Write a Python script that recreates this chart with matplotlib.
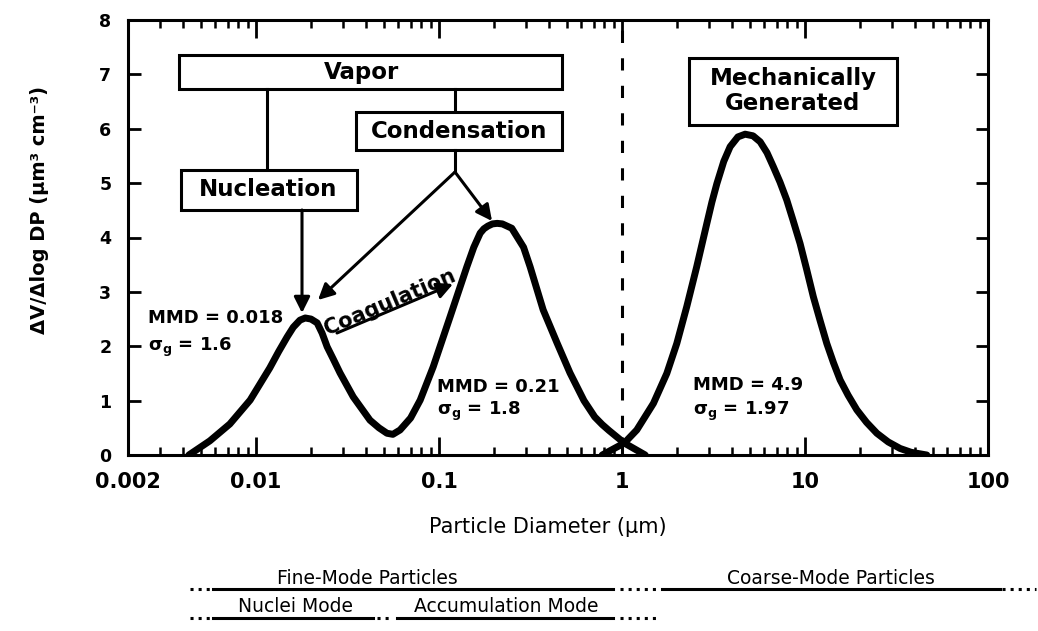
import matplotlib
matplotlib.use("Agg")
import matplotlib.pyplot as plt
from matplotlib.ticker import FixedLocator, LogLocator, NullFormatter
from matplotlib.patches import Rectangle
from matplotlib.lines import Line2D

plt.rcParams['font.family'] = ['DejaVu Sans']
plt.rcParams['mathtext.fontset'] = 'dejavusans'
plt.rcParams['mathtext.default'] = 'bf'

# ---------------- data ----------------
fine_d = [0.0043, 0.0056, 0.0072, 0.0093, 0.0119, 0.0133, 0.0148, 0.0160, 0.0174,
          0.0186, 0.0200, 0.0216, 0.0230, 0.0245, 0.0265, 0.0288, 0.0340, 0.0420,
          0.0470, 0.0520, 0.0560, 0.0613, 0.0700, 0.0790, 0.0930, 0.1150, 0.1420,
          0.1550, 0.1680, 0.1760, 0.1850, 0.1960, 0.2080, 0.2220, 0.2500, 0.2900,
          0.3150, 0.3710, 0.4420, 0.5200, 0.6200, 0.7100, 0.7800, 0.8500, 1.0300,
          1.3400]
fine_v = [0.00, 0.26, 0.57, 1.01, 1.60, 1.90, 2.17, 2.35, 2.48,
          2.52, 2.50, 2.43, 2.24, 1.99, 1.76, 1.51, 1.07, 0.64,
          0.50, 0.40, 0.38, 0.46, 0.68, 1.01, 1.62, 2.54, 3.46,
          3.82, 4.08, 4.16, 4.21, 4.25, 4.26, 4.25, 4.17, 3.82,
          3.46, 2.67, 2.06, 1.51, 1.00, 0.70, 0.56, 0.45, 0.22,
          0.00]

coarse_d = [0.78, 1.03, 1.205, 1.486, 1.758, 1.993, 2.26, 2.56, 2.91, 3.10, 3.30,
            3.60, 3.90, 4.30, 4.71, 5.20, 5.69, 6.20, 6.72, 7.30, 7.95, 8.60, 9.40,
            10.2, 11.11, 12.1, 13.16, 14.3, 15.56, 17.2, 19.2, 21.7, 24.7, 28.5,
            33.1, 38.0, 46.3]
coarse_v = [0.00, 0.22, 0.46, 0.95, 1.50, 2.05, 2.73, 3.46, 4.26, 4.65, 4.99,
            5.40, 5.67, 5.85, 5.90, 5.87, 5.76, 5.56, 5.30, 5.02, 4.69, 4.32, 3.89,
            3.42, 2.91, 2.47, 2.05, 1.70, 1.38, 1.10, 0.83, 0.60, 0.40, 0.24,
            0.12, 0.05, 0.00]

xtick_vals = [0.002, 0.01, 0.1, 1, 10, 100]
xtick_labels = ["0.002", "0.01", "0.1", "1", "10", "100"]
ytick_vals = [0, 1, 2, 3, 4, 5, 6, 7, 8]
ytick_labels = ["0", "1", "2", "3", "4", "5", "6", "7", "8"]
fine_coarse_cut = 1.0

mode_labels = [("MMD = 0.018", r"$σ_g$ = 1.6"),
               ("MMD = 0.21", r"$σ_g$ = 1.8"),
               ("MMD = 4.9", r"$σ_g$ = 1.97")]

# ---------------- figure ----------------
W, H = 1038, 631
fig = plt.figure(figsize=(W / 100, H / 100), dpi=100)
ax = fig.add_axes([128 / W, (H - 455) / H, 860 / W, 435 / H])
ax.set_xscale('log')
ax.set_xlim(0.002, 100)
ax.set_ylim(0, 8)

ax.plot(fine_d, fine_v, color='black', lw=5, solid_joinstyle='round',
        solid_capstyle='round', zorder=3)
ax.plot(coarse_d, coarse_v, color='black', lw=5, solid_joinstyle='round',
        solid_capstyle='round', zorder=3)
ax.axvline(fine_coarse_cut, color='black', lw=2.2, linestyle=(0, (4, 5)), zorder=2)

for s in ax.spines.values():
    s.set_linewidth(2.2)

ax.xaxis.set_major_locator(FixedLocator(xtick_vals))
ax.set_xticklabels(xtick_labels, fontweight='bold')
ax.xaxis.set_minor_locator(LogLocator(base=10, subs=range(2, 10), numticks=20))
ax.xaxis.set_minor_formatter(NullFormatter())
ax.set_yticks(ytick_vals)
ax.set_yticklabels(ytick_labels, fontweight='bold')
ax.tick_params(axis='x', which='major', direction='in', length=13, width=2,
               top=True, labelsize=15, pad=12)
ax.tick_params(axis='x', which='minor', direction='in', length=6, width=1.8, top=True)
ax.tick_params(axis='y', which='major', direction='in', length=9, width=2,
               right=True, labelsize=12.5, pad=12)

T = ax.transAxes


def fx(px):
    return (px - 128) / 860


def fy(py):
    return (455 - py) / 435


def box(x0, y0, x1, y1):
    ax.add_patch(Rectangle((fx(x0), fy(y1)), fx(x1) - fx(x0), fy(y0) - fy(y1),
                           transform=T, facecolor='white', edgecolor='black',
                           lw=2.2, zorder=4, clip_on=False))


def seg(x0, y0, x1, y1):
    ax.add_line(Line2D([fx(x0), fx(x1)], [fy(y0), fy(y1)], transform=T,
                       color='black', lw=2.2, zorder=4, clip_on=False))


def arrow(x0, y0, x1, y1):
    ax.annotate("", xy=(fx(x1), fy(y1)), xytext=(fx(x0), fy(y0)),
                xycoords=T, textcoords=T,
                arrowprops=dict(arrowstyle='-|>', lw=2.2, color='black',
                                mutation_scale=24, shrinkA=0, shrinkB=0),
                zorder=5)


boxfs = 16.5
# Vapor
box(179, 55, 562, 89)
ax.text(fx(362), fy(73), "Vapor", transform=T, ha='center', va='center',
        fontsize=boxfs, fontweight='bold', zorder=6)
seg(267, 89, 267, 170)
seg(455, 89, 455, 112)
# Nucleation
box(181, 170, 357, 210)
ax.text(fx(268), fy(190), "Nucleation", transform=T, ha='center', va='center',
        fontsize=boxfs, fontweight='bold', zorder=6)
arrow(302, 210, 302, 313)
# Condensation
box(356, 112, 562, 150)
ax.text(fx(459), fy(131), "Condensation", transform=T, ha='center', va='center',
        fontsize=boxfs, fontweight='bold', zorder=6)
seg(455, 150, 455, 172)
arrow(455, 172, 318, 300)
arrow(455, 172, 492, 221)
# Coagulation
arrow(337, 333, 453, 284)
ax.text(fx(390), fy(302), "Coagulation", transform=T, ha='center', va='center',
        fontsize=15, fontweight='bold', rotation=23, rotation_mode='anchor', zorder=6)
# Mechanically generated
box(689, 58, 897, 125)
ax.text(fx(793), fy(91), "Mechanically\nGenerated", transform=T, ha='center',
        va='center', fontsize=boxfs, fontweight='bold', linespacing=1.15, zorder=6)

# MMD labels
mmd_pos = [(148, 318, 347), (437, 387, 411), (693, 385, 411)]
for (l1, l2), (px, py1, py2) in zip(mode_labels, mmd_pos):
    ax.text(fx(px), fy(py1), l1, transform=T, ha='left', va='center',
            fontsize=13, fontweight='bold', zorder=6)
    ax.text(fx(px), fy(py2), l2, transform=T, ha='left', va='center',
            fontsize=13, fontweight='bold', zorder=6)

# axis labels
fig.text(40 / W, 1 - 210 / H, "ΔV/Δlog DP (µm³ cm⁻³)", rotation=90,
         ha='center', va='center', fontsize=14, fontweight='bold')
fig.text(548 / W, 1 - 527 / H, "Particle Diameter (µm)", ha='center', va='center',
         fontsize=15)


# size-range annotations below the axes
def fline(x0, x1, py, style):
    fig.add_artist(Line2D([x0 / W, x1 / W], [1 - py / H, 1 - py / H],
                          color='black', lw=2.2, linestyle=style))


fig.text(367 / W, 1 - 578 / H, "Fine-Mode Particles", ha='center', va='center',
         fontsize=13.5)
fig.text(831 / W, 1 - 578 / H, "Coarse-Mode Particles", ha='center', va='center',
         fontsize=13.5)
fig.text(296 / W, 1 - 607 / H, "Nuclei Mode", ha='center', va='center', fontsize=13.5)
fig.text(506 / W, 1 - 607 / H, "Accumulation Mode", ha='center', va='center',
         fontsize=13.5)

fline(190, 213, 589, ':')
fline(213, 613, 589, '-')
fline(620, 658, 589, ':')
fline(662, 1000, 589, '-')
fline(1002, 1036, 589, ':')

fline(190, 213, 618, ':')
fline(213, 373, 618, '-')
fline(377, 392, 618, ':')
fline(397, 613, 618, '-')
fline(620, 660, 618, ':')

fig.savefig("out.png", dpi=100)
